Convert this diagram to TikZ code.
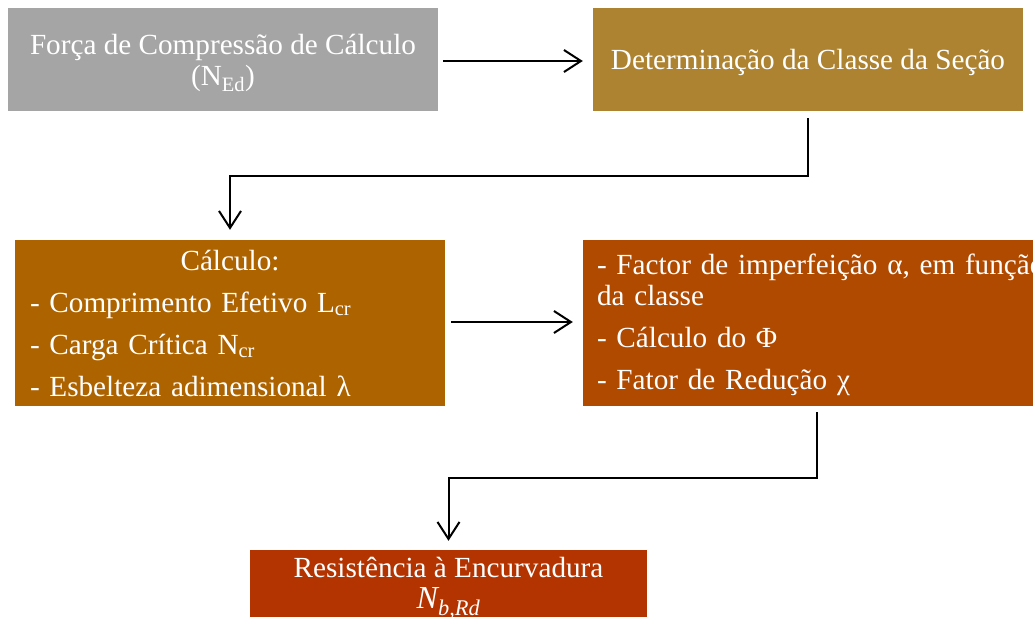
\documentclass[tikz,border=0pt]{standalone}
\usepackage{fontspec}
\setmainfont{Liberation Serif}
\usepackage{tikz}
\usetikzlibrary{arrows.meta}

\definecolor{cinza}{RGB}{165,165,165}
\definecolor{ouro}{RGB}{173,131,49}
\definecolor{laranja}{RGB}{173,99,0}
\definecolor{ferrugem}{RGB}{176,74,0}
\definecolor{tijolo}{RGB}{179,52,0}

\newcommand{\folga}[1]{\rule{0pt}{#1}}

\tikzset{
  caixa/.style={rectangle,text=white,inner sep=0pt,align=center,
    font=\fontsize{29.2}{31}\selectfont},
  fluxo/.style={line width=2pt,-{Straight Barb[length=17pt,width=22pt,line width=2pt]}}
}

\begin{document}
\begin{tikzpicture}[x=1pt,y=-1pt]
\useasboundingbox (0,0) rectangle (1033,616);
\clip (0,0) rectangle (1033,616);

\node[caixa,fill=cinza,minimum width=430pt,minimum height=103pt] (forca) at (223,59.5)
  {\folga{27pt}Força de Compressão de Cálculo\\(N\textsubscript{Ed})};
\node[caixa,fill=ouro,minimum width=430pt,minimum height=103pt] (classe) at (808,59.5)
  {\folga{27pt}Determinação da Classe da Seção};

\node[caixa,fill=laranja,minimum width=430pt,minimum height=166pt,
  text width=400pt,align=left] (calculo) at (230,323)
  {\makebox[\hsize]{Cálculo:}\\[11pt]
   - Comprimento Efetivo L\textsubscript{cr}\\[11pt]
   - Carga Crítica N\textsubscript{cr}\\[11pt]
   - Esbelteza adimensional λ};
\node[caixa,fill=ferrugem,minimum height=166pt,inner xsep=14pt,
  text width=470pt,align=left] (reducao) at (832,323)
  {\folga{24pt}- Factor de imperfeição α, em função\\
   da classe\\[11pt]
   - Cálculo do Φ\\[11pt]
   - Fator de Redução χ};

\node[caixa,fill=tijolo,minimum width=397pt,minimum height=70pt] (resist) at (448.5,585)
  {\folga{26pt}Resistência à Encurvadura\\{\fontsize{32}{31}\selectfont\itshape N\textsubscript{b,Rd}}};

% ligacoes
\draw[fluxo,shorten <=5pt,shorten >=10pt] (forca.east |- 0,61) -- (classe.west |- 0,61);
\draw[fluxo,shorten <=7pt,shorten >=10pt] (classe.south) -- ++(0,64.5) -| (calculo.north);
\draw[fluxo,shorten <=6pt,shorten >=10pt] (calculo.east |- 0,322) -- (reducao.west |- 0,322);
\draw[fluxo,shorten <=6pt,shorten >=9pt] ([xshift=234pt]reducao.south west) -- ++(0,72) -| (resist.north);
\end{tikzpicture}
\end{document}
